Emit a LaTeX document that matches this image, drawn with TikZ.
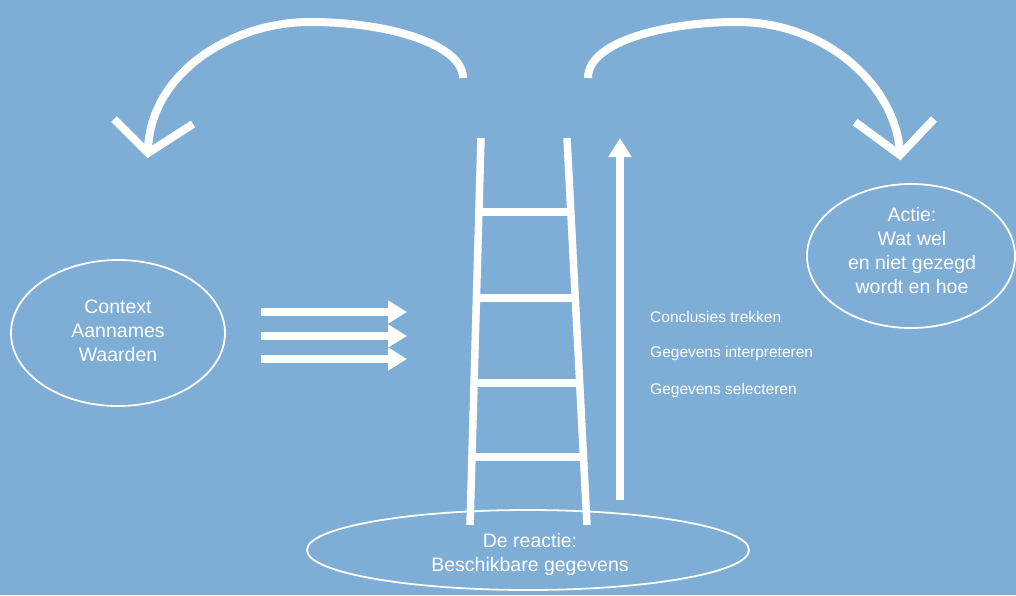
\documentclass[tikz,border=0pt]{standalone}
\usepackage{fontspec}
\setmainfont{Liberation Sans}
\usetikzlibrary{arrows.meta,shapes.geometric,calc}
\definecolor{bgblue}{RGB}{126,173,214}
\begin{document}
\begin{tikzpicture}[x=1pt,y=-1pt,
  bigtext/.style={text=white,font=\fontsize{19.5}{24}\selectfont,align=center,inner sep=0},
  smalltext/.style={text=white,font=\fontsize{15.5}{18}\selectfont,anchor=base west,inner sep=0},
  oval/.style={ellipse,draw=white,line width=1.8pt,inner sep=0},
  bar/.style={draw=white,line width=7.5pt},
  curve/.style={draw=white,line width=8pt},
  vee/.style={draw=white,line width=8pt,line join=miter},
  pointer/.style={bar,-{Triangle[length=19pt,width=22pt]}}
]
% background and frame
\fill[bgblue] (0,0) rectangle (1016,595);
\useasboundingbox (0,0) rectangle (1016,595);

% the three ovals
\node[oval,minimum width=214pt,minimum height=146pt] (context) at (118,333) {};
\node[oval,minimum width=208pt,minimum height=144pt] (actie) at (911,256) {};
\node[oval,minimum width=442pt,minimum height=80pt] (reactie) at (528,550) {};

\node[bigtext] (contexttxt) at (118,331) {Context\\Aannames\\Waarden};
\node[bigtext] (actietxt) at (912,251) {Actie:\\Wat wel\\en niet gezegd\\wordt en hoe};
\node[bigtext] (reactietxt) at (530,554) {De reactie:\\Beschikbare gegevens};

% the ladder
\coordinate (lt) at (481,138);
\coordinate (lb) at (470,525);
\coordinate (rt) at (567,138);
\coordinate (rb) at (587,525);
\draw[bar] (lt) -- (lb);
\draw[bar] (rt) -- (rb);
\foreach \t in {0.191,0.413,0.633,0.824}
  \draw[bar] ($(lt)!\t!(lb)$) -- ($(rt)!\t!(rb)$);

% upward arrow beside the ladder
\coordinate (up0) at (620,500);
\coordinate (up1) at (620,138);
\draw[pointer] (up0) -- (up1);

% rung labels
\node[smalltext] (step3) at (650,322.7) {Conclusies trekken};
\node[smalltext] (step2) at (650,357.5) {Gegevens interpreteren};
\node[smalltext] (step1) at (650,394) {Gegevens selecteren};

% three arrows from the context oval toward the ladder
\foreach \y/\n in {312/1,336/2,359/3}{
  \coordinate (ha\n) at (261,\y);
  \coordinate (hb\n) at (407,\y);
  \draw[pointer] (ha\n) -- (hb\n);
}

% left loop back
\coordinate (lstart) at (463,78);
\coordinate (ltip) at (148,153);
\coordinate (larmA) at (114,119);
\coordinate (larmB) at (193,124);
\draw[curve] (lstart) .. controls (463,45) and (390,22) .. (310,22)
  .. controls (230,22) and (148,75) .. (ltip);
\draw[vee] (larmA) -- (ltip) -- (larmB);

% right loop forward
\coordinate (rstart) at (588,78);
\coordinate (rtip) at (900,155);
\coordinate (rarmA) at (855,122);
\coordinate (rarmB) at (934,119);
\draw[curve] (rstart) .. controls (588,40) and (670,22) .. (737,22)
  .. controls (830,22) and (898,90) .. (rtip);
\draw[vee] (rarmA) -- (rtip) -- (rarmB);
\end{tikzpicture}
\end{document}
